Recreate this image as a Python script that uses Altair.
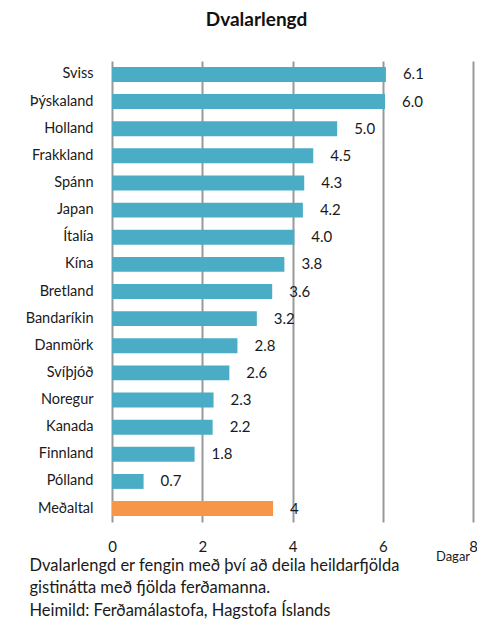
import altair as alt
import pandas as pd

countries = ["Sviss", "Þýskaland", "Holland", "Frakkland", "Spánn", "Japan", "Ítalía",
             "Kína", "Bretland", "Bandaríkin", "Danmörk", "Svíþjóð", "Noregur", "Kanada",
             "Finnland", "Pólland", "Meðaltal"]
values = [6.07, 6.05, 4.99, 4.46, 4.26, 4.23, 4.04, 3.82, 3.55, 3.21, 2.78, 2.60,
          2.25, 2.23, 1.83, 0.70, 3.57]
labels = ["6.1", "6.0", "5.0", "4.5", "4.3", "4.2", "4.0", "3.8", "3.6", "3.2", "2.8",
          "2.6", "2.3", "2.2", "1.8", "0.7", "4"]
groups = ["land"] * 16 + ["meðaltal"]
x_ticks = [0, 2, 4, 6, 8]
footnote = ["Dvalarlengd er fengin með því að deila heildarfjölda",
            "gistinátta með fjölda ferðamanna.",
            "Heimild: Ferðamálastofa, Hagstofa Íslands"]

df = pd.DataFrame({"land": countries, "dagar": values, "lab": labels, "hopur": groups})

FONT = "Lato"

y_enc = alt.Y("land:N", sort=countries,
              scale=alt.Scale(paddingInner=0.45, paddingOuter=0.22),
              axis=alt.Axis(title=None, domain=False, ticks=False, labelPadding=19,
                            labelFontSize=14.5, labelFont=FONT, labelColor="#1a1a1a"))

x_enc = alt.X("dagar:Q",
              scale=alt.Scale(domain=[0, 8], nice=False),
              axis=alt.Axis(values=x_ticks, grid=True, gridColor="#999999", gridWidth=2,
                            domain=False, ticks=False, labelPadding=17, labelFlush=False,
                            labelFontSize=15, labelFont=FONT, labelColor="#1a1a1a",
                            format="d",
                            title=footnote, titleFont=FONT, titleFontSize=16.5,
                            titleFontWeight="normal", titleColor="#1a1a1a",
                            titleAlign="left", titleBaseline="top",
                            titleX=-83, titleY=35, titleLineHeight=22.5))

bars = alt.Chart(df).mark_bar().encode(
    x=x_enc,
    y=y_enc,
    color=alt.Color("hopur:N",
                    scale=alt.Scale(domain=["land", "meðaltal"], range=["#4BACC6", "#F79646"]),
                    legend=None),
)

text = alt.Chart(df).mark_text(align="left", baseline="middle", dx=17, fontSize=15,
                               font=FONT, color="#1a1a1a").encode(
    x="dagar:Q", y=alt.Y("land:N", sort=countries), text="lab:N")

unit = alt.Chart(pd.DataFrame({"t": ["Dagar"]})).mark_text(
    align="center", baseline="middle", fontSize=13, font=FONT, color="#1a1a1a").encode(
    x=alt.value(341), y=alt.value(496), text="t:N")

chart = alt.layer(bars, text, unit).properties(
    width=361, height=461,
    padding={"left": 104, "top": 53, "right": 4, "bottom": 97},
    autosize=alt.AutoSizeParams(type="none"),
    title=alt.TitleParams("Dvalarlengd", font=FONT, fontSize=19, fontWeight="bold",
                          anchor="middle", dx=-36, offset=16, baseline="alphabetic",
                          color="#111111"),
).configure_view(stroke=None)

chart.save("out.html", embed_options={"renderer": "svg", "actions": False})
